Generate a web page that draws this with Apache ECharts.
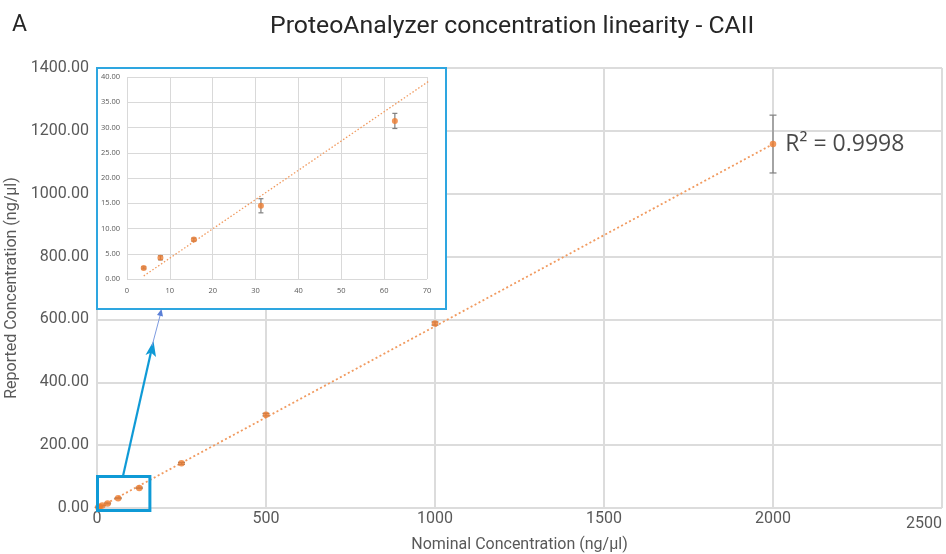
<!DOCTYPE html>
<html>
<head>
<meta charset="utf-8">
<script src="https://cdn.jsdelivr.net/npm/echarts@6/dist/echarts.min.js"></script>
<style>
  html, body { margin: 0; padding: 0; background: #fff; }
  #main { width: 946px; height: 554px; }
</style>
</head>
<body>
<div id="main"></div>
<script>
// nominal vs reported concentration (ng/ul), error = +/- sd
var nominal  = [3.9, 7.8, 15.6, 31.25, 62.5, 125, 250, 500, 1000, 2000];
var reported = [2.2, 4.2, 7.8, 14.5, 31.3, 64, 142, 297, 587, 1158];
var errors   = [0.2, 0.4, 0.3, 1.4, 1.5, 2, 3, 4, 5, 92];
// linear trendline end points
var trendX = [3.9, 2000];
var trendY = [0.6, 1158];
var insetMaxX = 70;
var xTicks = [0, 500, 1000, 1500, 2000, 2500];
var yTicks = [0, 200, 400, 600, 800, 1000, 1200, 1400];

var GRAY = '#595959';
var ORANGE = '#ed7d31';
var GRID = '#dcdcdc';

var pts = nominal.map(function (x, i) { return [x, reported[i]]; });
var errPts = nominal.map(function (x, i) { return [x, reported[i], errors[i]]; });
var insetPts = pts.filter(function (p) { return p[0] <= insetMaxX; });
var insetErr = errPts.filter(function (p) { return p[0] <= insetMaxX; });
var trend = trendX.map(function (x, i) { return [x, trendY[i]]; });

function errRender(cap, color) {
  return function (params, api) {
    var x = api.value(0), y = api.value(1), e = api.value(2);
    var top = api.coord([x, y + e]);
    var bot = api.coord([x, y - e]);
    var st = { stroke: color, lineWidth: 1.2 };
    return {
      type: 'group',
      children: [
        { type: 'line', shape: { x1: top[0], y1: top[1], x2: bot[0], y2: bot[1] }, style: st },
        { type: 'line', shape: { x1: top[0] - cap, y1: top[1], x2: top[0] + cap, y2: top[1] }, style: st },
        { type: 'line', shape: { x1: bot[0] - cap, y1: bot[1], x2: bot[0] + cap, y2: bot[1] }, style: st }
      ]
    };
  };
}

var mainData = pts.map(function (p, i) {
  if (i === pts.length - 1) {
    return {
      value: p,
      label: {
        show: true, position: 'right', distance: 9,
        formatter: 'R² = 0.9998',
        fontFamily: 'Open Sans', fontSize: 23, color: '#1a1a1a'
      }
    };
  }
  return p;
});

var chart = echarts.init(document.getElementById('main'));
var option = {
  animation: false,
  backgroundColor: '#fff',
  textStyle: { fontFamily: 'Roboto' },
  title: [
    { text: 'A', left: 7, top: 9, textStyle: { fontFamily: 'Roboto', fontSize: 23, fontWeight: 'normal', color: '#262626' } },
    { text: 'ProteoAnalyzer concentration linearity - CAII', left: 265, top: 9,
      textStyle: { fontFamily: 'Roboto', fontSize: 24.8, fontWeight: 'normal', color: '#262626' } }
  ],
  grid: [
    { left: 97, top: 68, width: 845, height: 440, containLabel: false, outerBoundsMode: 'none' },
    { left: 127, top: 77, width: 300, height: 202, containLabel: false, outerBoundsMode: 'none' }
  ],
  xAxis: [
    {
      type: 'value', gridIndex: 0, min: xTicks[0], max: xTicks[xTicks.length - 1], interval: 500,
      name: 'Nominal Concentration (ng/µl)', nameLocation: 'middle', nameGap: 25,
      nameTextStyle: { fontSize: 16, color: GRAY, fontFamily: 'Roboto' },
      axisLine: { show: false }, axisTick: { show: false },
      axisLabel: {
        fontSize: 16, color: GRAY, margin: 3, alignMaxLabel: 'right',
        formatter: function (v) { return v === 2500 ? '{last|' + v + '}' : String(v); },
        rich: { last: { fontSize: 16, color: GRAY, padding: [5, 0, 0, 0] } }
      },
      splitLine: { show: true, lineStyle: { color: GRID, width: 2 } }
    },
    {
      type: 'value', gridIndex: 1, min: 0, max: insetMaxX, interval: 10, z: 4,
      axisLine: { show: false }, axisTick: { show: false },
      axisLabel: { fontSize: 7.5, color: GRAY, margin: 8, fontFamily: 'Open Sans' },
      splitLine: { show: true, lineStyle: { color: '#d9d9d9', width: 1 } }
    }
  ],
  yAxis: [
    {
      type: 'value', gridIndex: 0, min: yTicks[0], max: yTicks[yTicks.length - 1], interval: 200,
      name: 'Reported Concentration (ng/µl)', nameLocation: 'middle', nameGap: 73, nameRotate: 90,
      nameTextStyle: { fontSize: 16, color: GRAY, fontFamily: 'Roboto' },
      axisLine: { show: false }, axisTick: { show: false },
      axisLabel: { fontSize: 16, color: GRAY, margin: 8, formatter: function (v) { return v.toFixed(2); } },
      splitLine: { show: true, lineStyle: { color: GRID, width: 2 } }
    },
    {
      type: 'value', gridIndex: 1, min: 0, max: 40, interval: 5, z: 4,
      axisLine: { show: false }, axisTick: { show: false },
      axisLabel: { fontSize: 7.5, color: GRAY, margin: 7, fontFamily: 'Open Sans',
        formatter: function (v) { return v.toFixed(2); } },
      splitLine: { show: true, lineStyle: { color: '#d9d9d9', width: 1 } }
    }
  ],
  series: [
    {
      type: 'line', xAxisIndex: 0, yAxisIndex: 0, data: trend, symbol: 'none', z: 2,
      lineStyle: { color: '#f19a5f', width: 1.8, type: [2, 2.5] }
    },
    {
      type: 'custom', xAxisIndex: 0, yAxisIndex: 0, data: errPts, z: 3,
      renderItem: errRender(3.5, '#7f7f7f')
    },
    {
      type: 'scatter', xAxisIndex: 0, yAxisIndex: 0, data: mainData, symbolSize: 6.5, z: 4,
      itemStyle: { color: ORANGE }
    },
    {
      type: 'line', xAxisIndex: 1, yAxisIndex: 1, data: trend, symbol: 'none', z: 6, clip: true,
      lineStyle: { color: '#f19a5f', width: 1.3, type: [1.5, 2] }
    },
    {
      type: 'custom', xAxisIndex: 1, yAxisIndex: 1, data: insetErr, z: 7,
      renderItem: errRender(2.5, '#7f7f7f')
    },
    {
      type: 'scatter', xAxisIndex: 1, yAxisIndex: 1, data: insetPts, symbolSize: 6, z: 8,
      itemStyle: { color: ORANGE }
    }
  ]
};
chart.setOption(option);

// annotations: inset frame, zoom box and arrows
var b0 = chart.convertToPixel({ xAxisIndex: 0, yAxisIndex: 0 }, [0, 100]);
var b1 = chart.convertToPixel({ xAxisIndex: 0, yAxisIndex: 0 }, [155, -8]);
chart.setOption({
  graphic: [
    { type: 'rect', z: 3, shape: { x: 97, y: 68, width: 349, height: 241 },
      style: { fill: '#fff', stroke: '#2ea6e0', lineWidth: 2 } },
    { type: 'rect', z: 5, shape: { x: b0[0] + 0.5, y: b0[1], width: b1[0] - b0[0], height: b1[1] - b0[1] },
      style: { fill: 'none', stroke: '#0f9ad6', lineWidth: 3 } },
    { type: 'line', z: 5, shape: { x1: 123, y1: 476, x2: 151, y2: 352 },
      style: { stroke: '#0f9ad6', lineWidth: 2.2 } },
    { type: 'polygon', z: 5, shape: { points: [[153.5, 341], [156, 357], [151, 352.5], [145.5, 355]] },
      style: { fill: '#0f9ad6' } },
    { type: 'line', z: 5, shape: { x1: 152, y1: 346, x2: 160.5, y2: 314 },
      style: { stroke: '#7d9be0', lineWidth: 1 } },
    { type: 'polygon', z: 5, shape: { points: [[161.5, 309], [163, 316.5], [157, 315]] },
      style: { fill: '#5a7fd6' } }
  ]
});
</script>
</body>
</html>
